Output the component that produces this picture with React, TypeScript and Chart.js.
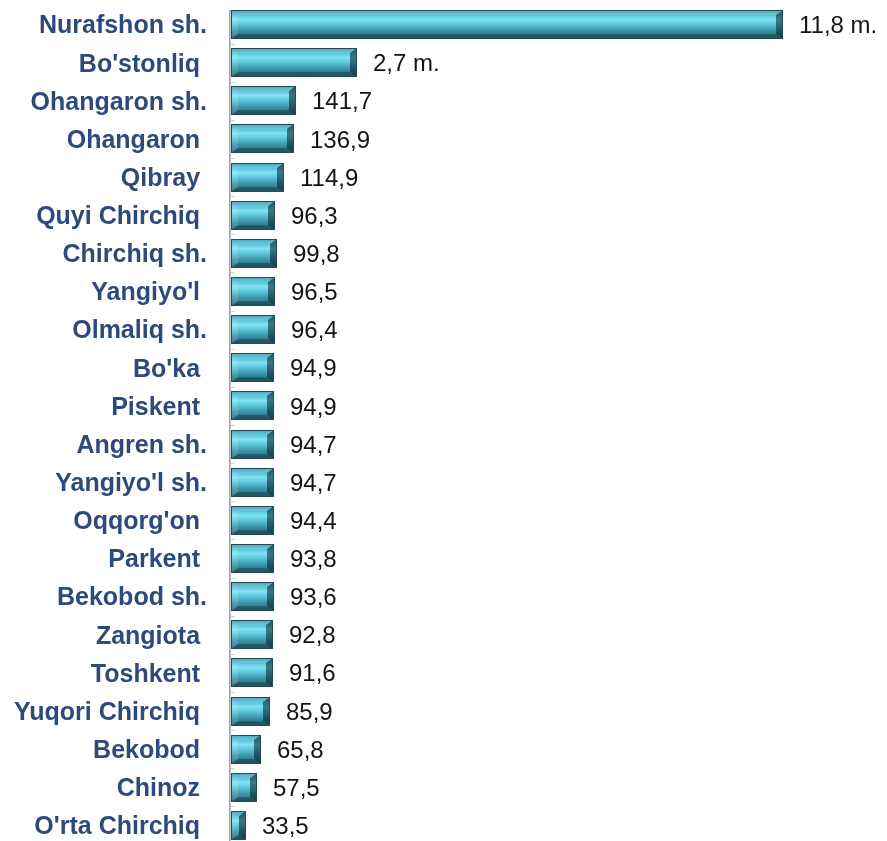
import React, { useEffect, useRef } from 'react';
import { Chart, registerables } from 'chart.js';

Chart.register(...registerables);

const categories: string[] = [
  "Nurafshon sh.",
  "Bo'stonliq ",
  "Ohangaron sh.",
  "Ohangaron ",
  "Qibray ",
  "Quyi Chirchiq ",
  "Chirchiq sh.",
  "Yangiyo'l ",
  "Olmaliq sh.",
  "Bo'ka ",
  "Piskent ",
  "Angren sh.",
  "Yangiyo'l sh.",
  "Oqqorg'on ",
  "Parkent ",
  "Bekobod sh.",
  "Zangiota ",
  "Toshkent ",
  "Yuqori Chirchiq ",
  "Bekobod ",
  "Chinoz ",
  "O'rta Chirchiq ",
];

// values in percent (1180% = 11,8 marta)
const values: number[] = [
  1180, 270, 141.7, 136.9, 114.9, 96.3, 99.8, 96.5, 96.4, 94.9, 94.9,
  94.7, 94.7, 94.4, 93.8, 93.6, 92.8, 91.6, 85.9, 65.8, 57.5, 33.5,
];

const fmt = (v: number): string =>
  v >= 200
    ? (v / 100).toFixed(1).replace('.', ',') + ' m.'
    : v.toFixed(1).replace('.', ',');

const FONT = '"Liberation Sans", Arial, sans-serif';

const bevelPlugin = {
  id: 'bevelBars',
  beforeDatasetsDraw(chart: any) {
    const { ctx, chartArea } = chart;
    const meta = chart.getDatasetMeta(0);
    const yScale = chart.scales.y;
    ctx.save();
    ctx.strokeStyle = '#d4d4d4';
    ctx.lineWidth = 1;
    const n = categories.length;
    for (let i = 1; i < n; i++) {
      const yb = (yScale.getPixelForValue(i - 1) + yScale.getPixelForValue(i)) / 2;
      ctx.beginPath();
      ctx.moveTo(chartArea.left, Math.round(yb) + 0.5);
      ctx.lineTo(chartArea.left + 5, Math.round(yb) + 0.5);
      ctx.stroke();
    }
    const first = meta.data[0];
    const top = first ? first.y - first.height / 2 : chartArea.top;
    ctx.fillStyle = '#a3a3a3';
    ctx.fillRect(chartArea.left - 1, top, 1.6, chartArea.bottom - top + 10);
    ctx.restore();
  },
  afterDatasetsDraw(chart: any) {
    const { ctx } = chart;
    const meta = chart.getDatasetMeta(0);
    ctx.save();
    meta.data.forEach((el: any, i: number) => {
      const p = el.getProps(['x', 'y', 'base', 'height'], true);
      const x0 = Math.round(p.base) + 1;
      const x1 = Math.round(p.x);
      const y0 = Math.round(p.y - p.height / 2);
      const y1 = Math.round(p.y + p.height / 2);
      const w = x1 - x0;
      const h = y1 - y0;
      const b = Math.min(7, w / 2);
      const bv = Math.min(5, h / 2);

      const g = ctx.createLinearGradient(0, y0, 0, y1);
      g.addColorStop(0, '#3d98ae');
      g.addColorStop(0.12, '#4fb7cd');
      g.addColorStop(0.33, '#7fe2f4');
      g.addColorStop(0.5, '#5cc5da');
      g.addColorStop(0.72, '#3b93a8');
      g.addColorStop(1, '#2a6171');
      ctx.fillStyle = g;
      ctx.fillRect(x0, y0, w, h);

      const poly = (pts: number[][], color: string) => {
        ctx.beginPath();
        ctx.moveTo(pts[0][0], pts[0][1]);
        for (let k = 1; k < pts.length; k++) ctx.lineTo(pts[k][0], pts[k][1]);
        ctx.closePath();
        ctx.fillStyle = color;
        ctx.fill();
      };
      poly([[x0, y0], [x1, y0], [x1 - b, y0 + bv], [x0 + b, y0 + bv]], 'rgba(255,255,255,0.10)');
      poly([[x0, y1], [x1, y1], [x1 - b, y1 - bv], [x0 + b, y1 - bv]], 'rgba(10,40,50,0.35)');
      poly([[x0, y0], [x0 + b, y0 + bv], [x0 + b, y1 - bv], [x0, y1]], 'rgba(255,255,255,0.12)');
      poly([[x1, y0], [x1 - b, y0 + bv], [x1 - b, y1 - bv], [x1, y1]], 'rgba(5,30,38,0.55)');

      ctx.strokeStyle = '#274b55';
      ctx.lineWidth = 1;
      ctx.strokeRect(x0 + 0.5, y0 + 0.5, w - 1, h - 1);

      ctx.fillStyle = '#141414';
      ctx.font = `24px ${FONT}`;
      ctx.textAlign = 'left';
      ctx.textBaseline = 'middle';
      ctx.fillText(fmt(values[i]), x1 + 16, p.y + 2);
    });
    ctx.restore();
  },
};

export default function App() {
  const ref = useRef<HTMLCanvasElement | null>(null);

  useEffect(() => {
    if (!ref.current) return;
    const chart = new Chart(ref.current, {
      type: 'bar',
      data: {
        labels: categories,
        datasets: [
          {
            data: values,
            backgroundColor: 'rgba(0,0,0,0)',
            borderWidth: 0,
            barPercentage: 0.76,
            categoryPercentage: 1,
          },
        ],
      },
      options: {
        indexAxis: 'y',
        animation: false,
        responsive: false,
        devicePixelRatio: 1,
        layout: { padding: { top: 5.4, bottom: 5.5, left: 0, right: 47.8 } },
        plugins: {
          legend: { display: false },
          tooltip: { enabled: false },
          title: { display: false },
        },
        scales: {
          x: {
            display: false,
            min: 0,
            max: 1300,
          },
          y: {
            afterFit: (s: any) => {
              s.width = 230;
              s.paddingTop = 0;
              s.paddingBottom = 0;
            },
            grid: { display: false, drawTicks: false, tickLength: 0 },
            border: { display: false },
            ticks: {
              padding: 23,
              labelOffset: 2,
              color: '#2c4a7c',
              font: { family: FONT, size: 25, weight: 'bold' },
              autoSkip: false,
            },
          },
        },
      },
      plugins: [bevelPlugin],
    });
    return () => chart.destroy();
  }, []);

  return (
    <div
      style={{
        position: 'absolute',
        left: 0,
        top: 0,
        width: 887,
        height: 841,
        overflow: 'hidden',
        background: '#fff',
      }}
    >
      <canvas ref={ref} width={887} height={850} style={{ display: 'block' }} />
    </div>
  );
}
